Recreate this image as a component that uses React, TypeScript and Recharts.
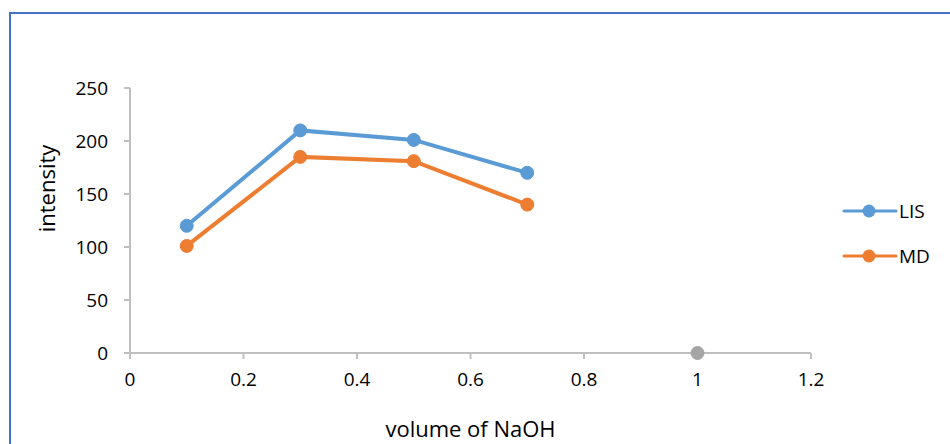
import { LineChart, Line, XAxis, YAxis, Legend, Label } from 'recharts';

const volumes = [0.1, 0.3, 0.5, 0.7, 1];
const lisValues = [120, 210, 201, 170, null];
const mdValues = [101, 185, 181, 140, null];
const extraValues = [null, null, null, null, 0];
const xTicks = [0, 0.2, 0.4, 0.6, 0.8, 1, 1.2];
const yTicks = [0, 50, 100, 150, 200, 250];

const data = volumes.map((v, i) => ({
  volume: v,
  LIS: lisValues[i],
  MD: mdValues[i],
  extra: extraValues[i],
}));

const FONT = '"Open Sans", "Noto Sans", sans-serif';
const AXIS = '#BFBFBF';

function LegendBox(props: any) {
  const items = (props.payload || []).filter((p: any) => p.type !== 'none');
  return (
    <div style={{ paddingLeft: 31 }}>
      {items.map((p: any) => (
        <div key={p.value} style={{ display: 'flex', alignItems: 'center', height: 45 }}>
          <svg width={56} height={16}>
            <line x1={2} y1={8} x2={54} y2={8} stroke={p.color} strokeWidth={3} strokeLinecap="round" />
            <circle cx={27} cy={8} r={6.5} fill={p.color} />
          </svg>
          <span style={{ fontFamily: FONT, fontSize: 19, color: '#000', marginLeft: 1 }}>{p.value}</span>
        </div>
      ))}
    </div>
  );
}

export default function App() {
  return (
    <div style={{ position: 'fixed', left: 0, top: 0, width: 950, height: 444, overflow: 'hidden', background: '#fff' }}>
      <div style={{ position: 'absolute', left: 9, top: 12, width: 980, height: 480, border: '2px solid #4472C4' }} />
      <div style={{ position: 'absolute', left: 0, top: 0 }}>
        <LineChart width={950} height={444} data={data} margin={{ top: 88, right: 0, bottom: 0, left: 0 }}>
          <XAxis
            dataKey="volume"
            type="number"
            domain={[0, 1.2]}
            ticks={xTicks}
            height={91}
            stroke={AXIS}
            strokeWidth={2}
            tickSize={6}
            tickMargin={14}
            tick={{ fill: '#000', fontSize: 19, fontFamily: FONT }}
          >
            <Label value="volume of NaOH" position="insideBottom" offset={7} fill="#000" fontSize={22} fontFamily={FONT} />
          </XAxis>
          <YAxis
            type="number"
            domain={[0, 250]}
            ticks={yTicks}
            width={130}
            stroke={AXIS}
            strokeWidth={2}
            tickSize={6}
            tickMargin={16}
            tick={{ fill: '#000', fontSize: 19, fontFamily: FONT }}
          >
            <Label
              content={({ viewBox }: any) => {
                const cx = viewBox.x + 46;
                const cy = viewBox.y + viewBox.height / 2 - 32;
                return (
                  <text x={cx} y={cy} transform={`rotate(-90 ${cx} ${cy})`} textAnchor="middle" dominantBaseline="central" fill="#000" fontSize={22} fontFamily={FONT}>
                    intensity
                  </text>
                );
              }}
            />
          </YAxis>
          <Legend
            layout="vertical"
            align="right"
            verticalAlign="middle"
            content={<LegendBox />}
            wrapperStyle={{ top: 188, right: 0, width: 139 }}
          />
          <Line dataKey="LIS" name="LIS" stroke="#5B9BD5" strokeWidth={4} dot={{ r: 6.5, fill: '#5B9BD5', stroke: '#5B9BD5', strokeWidth: 1 }} isAnimationActive={false} />
          <Line dataKey="MD" name="MD" stroke="#ED7D31" strokeWidth={4} dot={{ r: 6.5, fill: '#ED7D31', stroke: '#ED7D31', strokeWidth: 1 }} isAnimationActive={false} />
          <Line dataKey="extra" legendType="none" stroke="#A5A5A5" strokeWidth={4} dot={{ r: 6.5, fill: '#A5A5A5', stroke: '#A5A5A5', strokeWidth: 1 }} isAnimationActive={false} />
        </LineChart>
      </div>
    </div>
  );
}
